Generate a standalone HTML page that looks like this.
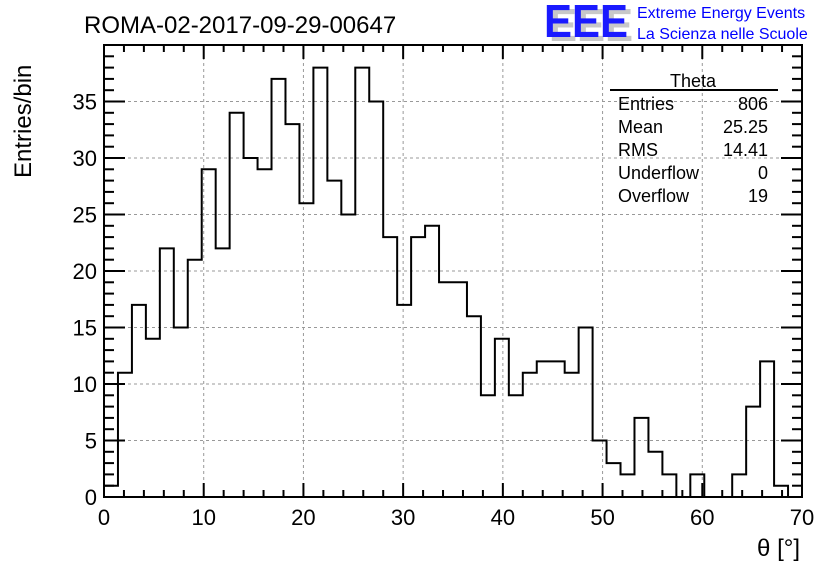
<!DOCTYPE html>
<html><head><meta charset="utf-8"><style>
body{margin:0;background:#fff;}
svg text{font-family:"Liberation Sans",sans-serif;}
</style></head><body>
<svg id="c" width="836" height="572" xmlns="http://www.w3.org/2000/svg">
<text x="84" y="33" font-size="24">ROMA-02-2017-09-29-00647</text>
<g>
<text x="549" y="41" font-size="46" fill="#c8c8c8" font-weight="bold" textLength="84" lengthAdjust="spacingAndGlyphs">EEE</text>
<text x="544" y="37" font-size="46" fill="#1a1aff" font-weight="bold" textLength="84" lengthAdjust="spacingAndGlyphs">EEE</text>
<text x="637" y="18" font-size="16" fill="#0000ff">Extreme Energy Events</text>
<text x="637" y="39" font-size="16" fill="#0000ff">La Scienza nelle Scuole</text>
</g>
<g id="grid"></g>
<g id="ticks"></g>
<path id="hist" fill="none" stroke="#000" stroke-width="2"/>
<rect x="104" y="45" width="698" height="452" fill="none" stroke="#000" stroke-width="2"/>
<g font-size="18">
<text x="693" y="87" text-anchor="middle">Theta</text>
<line x1="610" y1="90" x2="778" y2="90" stroke="#000" stroke-width="2"/>
<text x="618" y="110">Entries</text><text x="768" y="110" text-anchor="end">806</text>
<text x="618" y="133">Mean</text><text x="768" y="133" text-anchor="end">25.25</text>
<text x="618" y="156">RMS</text><text x="768" y="156" text-anchor="end">14.41</text>
<text x="618" y="179">Underflow</text><text x="768" y="179" text-anchor="end">0</text>
<text x="618" y="202">Overflow</text><text x="768" y="202" text-anchor="end">19</text>
</g>
<text transform="translate(31,178) rotate(-90)" font-size="24">Entries/bin</text>
<text x="800" y="556" font-size="24" text-anchor="end">θ [°]</text>
</svg>
<script>
const binWidth = 1.4;
const counts = [1,11,17,14,22,15,21,29,22,34,30,29,37,33,26,38,28,25,38,35,23,17,23,24,19,19,16,9,14,9,11,12,12,11,15,5,3,2,7,4,2,0,2,0,0,2,8,12,1,0];
const xTicks = [0,10,20,30,40,50,60,70];
const yTicks = [0,5,10,15,20,25,30,35];
const X0=104,X1=802,Y0=497,YT=45,xMax=70,yMax=(497-45)/11.3;
const sx=v=>X0+(v/xMax)*(X1-X0);
const sy=v=>Y0-(v/yMax)*(Y0-YT);
const NS='http://www.w3.org/2000/svg';
const grid=document.getElementById('grid'),ticks=document.getElementById('ticks'),svg=document.getElementById('c');
function ln(p,x1,y1,x2,y2,attrs){const l=document.createElementNS(NS,'line');l.setAttribute('x1',x1);l.setAttribute('y1',y1);l.setAttribute('x2',x2);l.setAttribute('y2',y2);for(const k in attrs)l.setAttribute(k,attrs[k]);p.appendChild(l);return l;}
const gA={stroke:'#999','stroke-width':1,'stroke-dasharray':'3,3'};
const tA={stroke:'#000','stroke-width':2};
xTicks.forEach(v=>{
  const x=sx(v);
  if(v>0&&v<xMax){const g=ln(grid,x,YT,x,Y0,gA);

}
  ln(ticks,x,Y0,x,Y0-14,tA);ln(ticks,x,YT,x,YT+14,tA);
  const t=document.createElementNS(NS,'text');t.setAttribute('x',x);t.setAttribute('y',Y0+28);t.setAttribute('font-size','22');t.setAttribute('text-anchor','middle');t.textContent=v;


  svg.appendChild(t);
});
for(let v=0;v<=xMax;v+=2){if(v%10){const x=sx(v);ln(ticks,x,Y0,x,Y0-7,tA);ln(ticks,x,YT,x,YT+7,tA);}}
yTicks.forEach(v=>{
  const y=sy(v);
  if(v>0){const g=ln(grid,X0,y,X1,y,gA);

}
  ln(ticks,X0,y,X0+21,y,tA);ln(ticks,X1,y,X1-21,y,tA);
  const t=document.createElementNS(NS,'text');t.setAttribute('x',97);t.setAttribute('y',y+8);t.setAttribute('font-size','22');t.setAttribute('text-anchor','end');t.textContent=v;


  svg.appendChild(t);
});
for(let v=1;v<yMax;v++){if(v%5){const y=sy(v);ln(ticks,X0,y,X0+10,y,tA);ln(ticks,X1,y,X1-10,y,tA);}}
let d='M'+sx(0)+','+sy(0);
counts.forEach((c,i)=>{d+=' L'+sx(i*binWidth)+','+sy(c)+' L'+sx((i+1)*binWidth)+','+sy(c);});
d+=' L'+sx(counts.length*binWidth)+','+sy(0);
document.getElementById('hist').setAttribute('d',d);
</script>
</body></html>
